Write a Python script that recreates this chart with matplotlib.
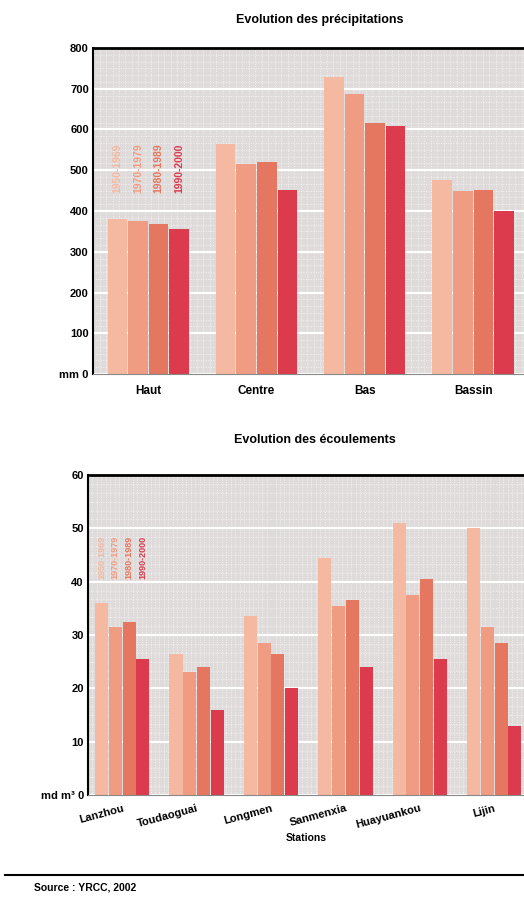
import matplotlib.pyplot as plt
import numpy as np

plt.rcParams['font.family'] = ['Liberation Sans', 'DejaVu Sans']
plt.rcParams['font.weight'] = 'bold'

# données précipitations (mm)
zones = ['Haut', 'Centre', 'Bas', 'Bassin']
periodes = ['1950-1969', '1970-1979', '1980-1989', '1990-2000']
precip = [
    [380, 565, 730, 475],
    [375, 515, 688, 450],
    [368, 520, 615, 452],
    [355, 452, 608, 400],
]

# données écoulements (md m3)
stations = ['Lanzhou', 'Toudaoguai', 'Longmen', 'Sanmenxia', 'Huayuankou', 'Lijin']
ecoul = [
    [36, 26.5, 33.5, 44.5, 51, 50],
    [31.5, 23, 28.5, 35.5, 37.5, 31.5],
    [32.5, 24, 26.5, 36.5, 40.5, 28.5],
    [25.5, 16, 20, 24, 25.5, 13],
]

couleurs = ['#f5b8a0', '#ef9c82', '#e5765f', '#dc3b4d']
fond = '#dfdbdb'

fig = plt.figure(figsize=(5.24, 9.07), dpi=100)


def habiller(ax, ymax, pas, unite, xlim):
    ax.set_facecolor(fond)
    ax.set_ylim(0, ymax)
    ax.set_xlim(*xlim)
    ticks = np.arange(0, ymax + 1, pas)
    ax.set_yticks(ticks)
    labels = [str(int(t)) for t in ticks]
    labels[0] = unite + ' 0'
    ax.set_yticklabels(labels, fontsize=8, fontweight='bold')
    # texture pointillée du fond
    ax.set_yticks(np.arange(0, ymax, pas / 6), minor=True)
    ax.set_xticks(np.arange(xlim[0], xlim[1], 0.06), minor=True)
    ax.grid(which='minor', color='white', lw=0.6, ls=(0, (1, 2)), alpha=0.8)
    ax.grid(which='major', axis='y', color='white', lw=1.6)
    ax.tick_params(which='minor', length=0)
    ax.tick_params(which='major', length=0, pad=3)
    ax.set_axisbelow(True)
    ax.spines['right'].set_visible(False)
    ax.spines['top'].set_linewidth(2)
    ax.spines['left'].set_linewidth(1.5)
    ax.spines['bottom'].set_color('#888888')
    ax.spines['bottom'].set_linestyle((0, (1, 1)))


# graphique du haut
ax1 = fig.add_axes([0.1775, 0.5876, 0.8225, 0.3595])
x = np.arange(len(zones))
w = 0.19
for i, vals in enumerate(precip):
    ax1.bar(x + (i - 1.5) * w, vals, w * 0.95, color=couleurs[i], zorder=2)
habiller(ax1, 800, 100, 'mm', (-0.51, 3.47))
ax1.set_xticks(x)
ax1.set_xticklabels(zones, fontsize=8.5, fontweight='bold')
ax1.tick_params(axis='x', pad=8)
for i, p in enumerate(periodes):
    ax1.text((i - 1.5) * w, 505, p, rotation=90, color=couleurs[i], fontsize=7.5,
             fontweight='bold', ha='center', va='center', zorder=3)
fig.text(0.61, 0.978, 'Evolution des précipitations', ha='center', va='center',
         fontsize=9, fontweight='bold')

# graphique du bas
ax2 = fig.add_axes([0.168, 0.1235, 0.832, 0.3528])
x2 = np.arange(len(stations))
w2 = 0.185
for i, vals in enumerate(ecoul):
    ax2.bar(x2 + (i - 1.5) * w2, vals, w2 * 0.95, color=couleurs[i], zorder=2)
habiller(ax2, 60, 10, 'md m³', (-0.46, 5.4))
ax2.set_xticks(x2)
ax2.set_xticklabels(stations, fontsize=8, fontweight='bold', rotation=15,
                    ha='right', rotation_mode='anchor')
ax2.tick_params(axis='x', pad=6)
ax2.set_xlabel('Stations', fontsize=7.5, fontweight='bold', labelpad=2)
for i, p in enumerate(periodes):
    ax2.text((i - 1.5) * w2, 44.5, p, rotation=90, color=couleurs[i], fontsize=6.5,
             fontweight='bold', ha='center', va='center', zorder=3)
fig.text(0.6, 0.515, 'Evolution des écoulements', ha='center', va='center',
         fontsize=9, fontweight='bold')

# source
fig.add_artist(plt.Line2D([0.01, 1.0], [0.035, 0.035], color='black', lw=1.5))
fig.text(0.065, 0.021, 'Source : YRCC, 2002', ha='left', va='center', fontsize=7.5,
         fontweight='bold')

fig.savefig('out.png', dpi=100)
